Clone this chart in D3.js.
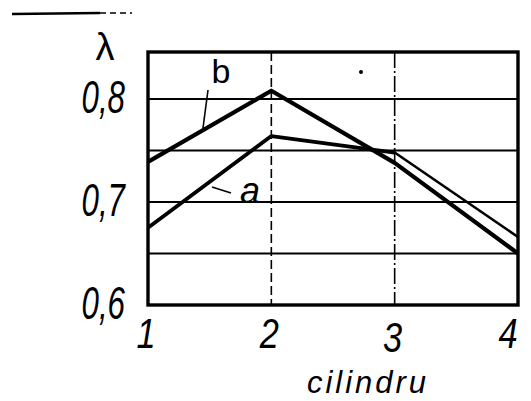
<!DOCTYPE html>
<html>
<head>
<meta charset="utf-8">
<script src="https://cdn.jsdelivr.net/npm/d3@7"></script>
<style>
  html, body { margin: 0; padding: 0; background: #fff; }
  svg { display: block; }
  text { font-family: "Liberation Sans", Arial, sans-serif; fill: #000; }
</style>
</head>
<body>
<svg id="chart" width="531" height="401"></svg>
<script>
// Cylinder index along the x axis
const cylinders = [1, 2, 3, 4];
// Coefficient lambda per cylinder, curves a and b
const seriesA = [0.675, 0.764, 0.748, 0.666];
const seriesB = [0.739, 0.808, 0.738, 0.650];
// Horizontal grid levels and y tick labels
const gridLevels = [0.65, 0.7, 0.75, 0.8];
const yTickValues = [0.6, 0.7, 0.8];
const yTickLabels = ["0,6", "0,7", "0,8"];
const xTickLabels = ["1", "2", "3", "4"];

const svg = d3.select("#chart");

const x = d3.scaleLinear().domain([1, 4]).range([148, 518]);
const y = d3.scaleLinear().domain([0.6, 0.8456]).range([305, 52]);

// short rule at the top left
svg.append("line").attr("x1", 12).attr("x2", 100).attr("y1", 14).attr("y2", 13)
  .attr("stroke", "#000").attr("stroke-width", 2.5);
svg.append("line").attr("x1", 100).attr("x2", 132).attr("y1", 13).attr("y2", 13)
  .attr("stroke", "#000").attr("stroke-width", 1.6).attr("stroke-dasharray", "6,4");

// horizontal grid
svg.append("g").selectAll("line").data(gridLevels).join("line")
  .attr("x1", x(1)).attr("x2", x(4))
  .attr("y1", d => y(d)).attr("y2", d => y(d))
  .attr("stroke", "#000").attr("stroke-width", 2);

// vertical grid at cylinders 2 and 3
svg.append("line").attr("x1", x(2)).attr("x2", x(2)).attr("y1", y.range()[1]).attr("y2", y(0.6))
  .attr("stroke", "#000").attr("stroke-width", 1.6).attr("stroke-dasharray", "9,4");
svg.append("line").attr("x1", x(3)).attr("x2", x(3)).attr("y1", y.range()[1]).attr("y2", y(0.6))
  .attr("stroke", "#000").attr("stroke-width", 1.6).attr("stroke-dasharray", "16,3,2,3");

// frame
svg.append("rect")
  .attr("x", x(1)).attr("y", y.range()[1])
  .attr("width", x(4) - x(1)).attr("height", y(0.6) - y.range()[1])
  .attr("fill", "none").attr("stroke", "#000").attr("stroke-width", 3.4);

const line = d3.line().x((d, i) => x(cylinders[i])).y(d => y(d));

// curve b
svg.append("path").datum(seriesB).attr("d", line)
  .attr("fill", "none").attr("stroke", "#000").attr("stroke-width", 4.2)
  .attr("stroke-linejoin", "round");
// curve a: heavier up to cylinder 3, lighter after
svg.append("path").datum(seriesA.slice(0, 3)).attr("d", line)
  .attr("fill", "none").attr("stroke", "#000").attr("stroke-width", 3.8)
  .attr("stroke-linejoin", "round");
svg.append("line")
  .attr("x1", x(3)).attr("y1", y(seriesA[2]))
  .attr("x2", x(4)).attr("y2", y(seriesA[3]))
  .attr("stroke", "#000").attr("stroke-width", 2.6);

// small dot inside the top band
svg.append("circle").attr("cx", 361).attr("cy", 72).attr("r", 2).attr("fill", "#000");

// y tick labels
svg.append("g").selectAll("text").data(yTickValues).join("text")
  .attr("transform", d => `translate(125,${y(d) + 14}) scale(0.68,1)`)
  .attr("text-anchor", "end")
  .attr("font-style", "italic").attr("font-size", 46)
  .text((d, i) => yTickLabels[i]);

// x tick labels
svg.append("g").selectAll("text").data(cylinders).join("text")
  .attr("transform", (d, i) => `translate(${x(d) - (i === 3 ? 10 : 2)},${i === 2 ? 352 : 348}) scale(0.8,1)`)
  .attr("text-anchor", "middle")
  .attr("font-style", "italic").attr("font-size", 43)
  .text((d, i) => xTickLabels[i]);

// axis titles
svg.append("text").attr("x", 105).attr("y", 60).attr("text-anchor", "middle")
  .attr("font-family", "DejaVu Sans").attr("font-size", 38).text("λ");
svg.append("text").attr("x", 368).attr("y", 393).attr("text-anchor", "middle")
  .attr("font-style", "italic").attr("font-size", 31).attr("letter-spacing", 3)
  .text("cilindru");

// curve labels with leader lines
svg.append("text").attr("x", 221).attr("y", 83).attr("text-anchor", "middle")
  .attr("font-size", 34).text("b");
svg.append("line").attr("x1", 208).attr("y1", 90).attr("x2", 203).attr("y2", 128)
  .attr("stroke", "#000").attr("stroke-width", 1.6);
svg.append("text").attr("x", 250).attr("y", 203).attr("text-anchor", "middle")
  .attr("font-style", "italic").attr("font-size", 36).text("a");
svg.append("line").attr("x1", 212).attr("y1", 187).attr("x2", 231).attr("y2", 193)
  .attr("stroke", "#000").attr("stroke-width", 1.6);
</script>
</body>
</html>
